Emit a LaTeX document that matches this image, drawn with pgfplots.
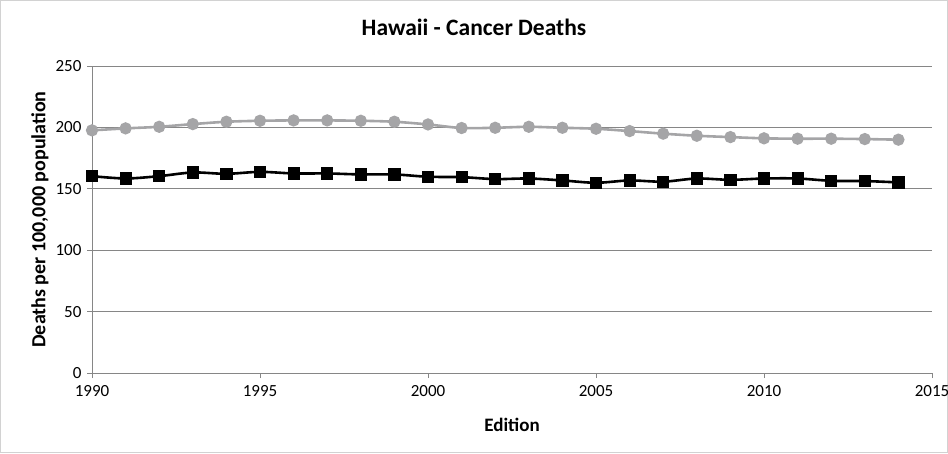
\documentclass[border=0pt]{standalone}
\usepackage{pgfplots}
\pgfplotsset{compat=1.18}
\usepackage{fontspec}
\setmainfont{Carlito}
\definecolor{gridgray}{RGB}{134,134,134}
\definecolor{sergray}{RGB}{165,165,167}
\definecolor{framegray}{RGB}{210,210,210}
\begin{document}
\begin{tikzpicture}[x=1pt,y=1pt]
\path[use as bounding box] (0,0) rectangle (948,453);
\draw[framegray, line width=1pt] (0.5,0.5) rectangle (947.5,452.5);
\begin{axis}[
  at={(92pt,80pt)}, anchor=south west,
  scale only axis, width=840pt, height=307pt,
  xmin=1990, xmax=2015, ymin=0, ymax=250,
  xtick={1990,1995,...,2015}, ytick={0,50,...,250},
  axis lines=left, axis line style={-, gridgray, line width=0.8pt},
  ymajorgrids, grid style={gridgray, line width=0.8pt},
  tick style={gridgray, line width=0.8pt}, tick align=outside, major tick length=5pt,
  /pgf/number format/1000 sep={}, /pgf/number format/assume math mode=true,
  tick label style={font=\fontsize{17}{17}\selectfont, black},
  xticklabel style={yshift=-4pt},
  yticklabel style={xshift=-2pt},
  title={Hawaii - Cancer Deaths},
  title style={font=\bfseries\fontsize{23.5}{23.5}\selectfont, at={(axis description cs:0.4548,1.1075)}, anchor=center},
  xlabel={Edition}, ylabel={Deaths per 100,000 population},
  xlabel style={font=\bfseries\fontsize{19}{19}\selectfont, at={(axis description cs:0.5,-0.1694)}, anchor=center},
  ylabel style={font=\bfseries\fontsize{20}{20}\selectfont, at={(axis description cs:-0.0619,0.5)}, anchor=center},
  clip=false,
]
\addplot[sergray, line width=2.6pt, smooth, mark=*, mark size=4.8pt, mark options={sergray, solid}] coordinates {
(1990,197.6) (1991,199.2) (1992,200.5) (1993,202.7) (1994,204.6) (1995,205.4) (1996,205.7) (1997,205.7) (1998,205.4) (1999,204.6) (2000,202.4) (2001,199.5) (2002,199.7) (2003,200.5) (2004,199.7) (2005,198.9) (2006,197.0) (2007,194.9) (2008,193.2) (2009,192.1) (2010,191.1) (2011,190.8) (2012,190.8) (2013,190.5) (2014,190.0)
};
\addplot[black, line width=2.6pt, smooth, mark=square*, mark size=4.8pt, mark options={black, solid}] coordinates {
(1990,160.3) (1991,158.4) (1992,160.3) (1993,163.3) (1994,162.2) (1995,163.8) (1996,162.5) (1997,162.5) (1998,161.7) (1999,161.7) (2000,159.8) (2001,159.5) (2002,157.9) (2003,158.4) (2004,156.8) (2005,154.9) (2006,156.8) (2007,155.8) (2008,158.4) (2009,157.3) (2010,158.4) (2011,158.4) (2012,156.5) (2013,156.3) (2014,155.2)
};
\end{axis}
\end{tikzpicture}
\end{document}
